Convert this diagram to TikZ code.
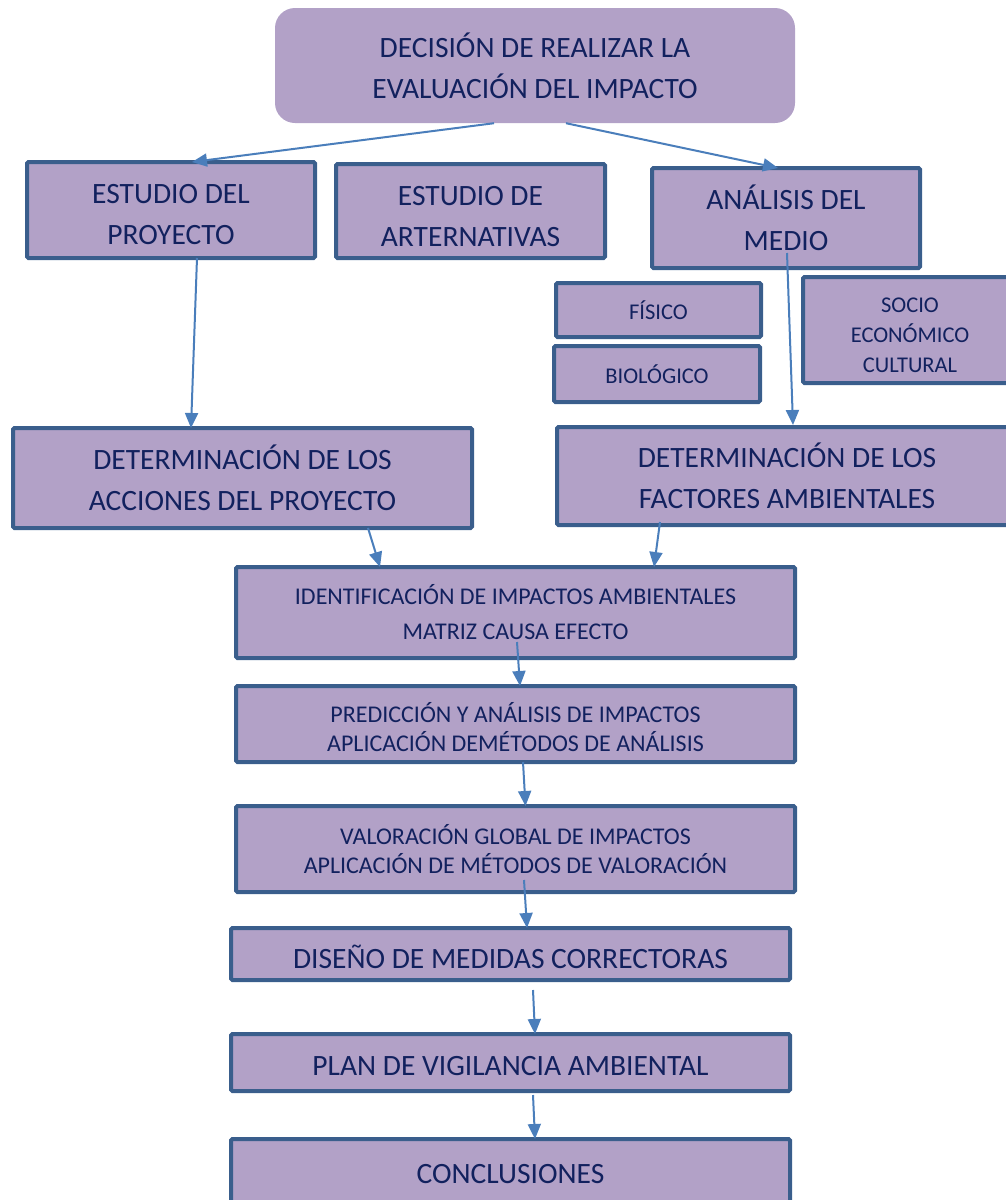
\documentclass[tikz,border=0pt]{standalone}
\usepackage{fontspec}
\setmainfont{Carlito}
\usetikzlibrary{arrows.meta}
\definecolor{boxfill}{HTML}{B2A1C7}
\definecolor{boxline}{HTML}{3A5E8C}
\definecolor{txt}{HTML}{12215E}
\definecolor{arr}{HTML}{4A7EBB}
\newcommand{\mvtext}[2]{\raisebox{#1}[\height][\depth]{\begin{tabular}{@{}c@{}}#2\end{tabular}}}
\begin{document}
\begin{tikzpicture}[x=1pt,y=-1pt,
  box/.style={draw=boxline, line width=4pt, fill=boxfill, rounded corners=1.5pt,
    text=txt, align=center, inner sep=0pt, outer sep=0pt},
  topbox/.style={fill=boxfill, rounded corners=20pt, text=txt, align=center, inner sep=0pt},
  big/.style={font=\fontsize{29.5}{41}\selectfont},
  mid/.style={font=\fontsize{24}{#1}\selectfont},
  sml/.style={font=\fontsize{22.5}{30}\selectfont},
  arrow/.style={draw=arr, line width=2pt, -{Triangle[length=15pt,width=13pt]}}]
\useasboundingbox (0,0) rectangle (1005,1200);

\node[topbox, big, minimum width=520pt, minimum height=115pt] (top) at (535,65.5)
  {DECISIÓN DE REALIZAR LA\\EVALUACIÓN DEL IMPACTO};

\node[box, big, minimum width=288pt, minimum height=96pt] (est) at (171,210)
  {\mvtext{-6pt}{ESTUDIO DEL\\PROYECTO}};
\node[box, big, minimum width=269pt, minimum height=94pt] (alt) at (470.5,211)
  {\mvtext{-7pt}{ESTUDIO DE\\ARTERNATIVAS}};
\node[box, big, minimum width=268pt, minimum height=100pt] (med) at (786,218)
  {ANÁLISIS DEL\\MEDIO};

\node[box, sml, minimum width=205pt, minimum height=54pt] (fis) at (658.5,310) {FÍSICO};
\node[box, sml, minimum width=206pt, minimum height=56pt] (bio) at (657,374) {BIOLÓGICO};
\node[box, sml, minimum width=214pt, minimum height=106pt] (soc) at (910,330)
  {\mvtext{-6pt}{SOCIO\\ECONÓMICO\\CULTURAL}};

\node[box, big, minimum width=459pt, minimum height=100pt] (acc) at (242.5,478)
  {DETERMINACIÓN DE LOS\\ACCIONES DEL PROYECTO};
\node[box, big, minimum width=460pt, minimum height=98pt] (fac) at (787,476)
  {DETERMINACIÓN DE LOS\\FACTORES AMBIENTALES};

\node[box, mid=35, minimum width=559pt, minimum height=91pt] (ide) at (515.5,612.5)
  {IDENTIFICACIÓN DE IMPACTOS AMBIENTALES\\MATRIZ CAUSA EFECTO};
\node[box, mid=28, minimum width=559pt, minimum height=76pt] (pre) at (515.5,724)
  {\mvtext{-7pt}{PREDICCIÓN Y ANÁLISIS DE IMPACTOS\\APLICACIÓN DEMÉTODOS DE ANÁLISIS}};
\node[box, mid=29, minimum width=559pt, minimum height=86pt] (val) at (515.5,849)
  {VALORACIÓN GLOBAL DE IMPACTOS\\APLICACIÓN DE MÉTODOS DE VALORACIÓN};
\node[box, big, minimum width=559pt, minimum height=52pt] (dis) at (510.5,954)
  {\mvtext{-6pt}{DISEÑO DE MEDIDAS CORRECTORAS}};
\node[box, big, minimum width=559pt, minimum height=57pt] (pla) at (510.5,1062.5)
  {\mvtext{-5pt}{PLAN DE VIGILANCIA AMBIENTAL}};
\node[box, big, minimum width=559pt, minimum height=76pt] (con) at (510.5,1177)
  {\mvtext{2pt}{CONCLUSIONES}};

\draw[arrow] ([xshift=-41pt]top.south) -- ([xshift=21pt]est.north);
\draw[arrow] ([xshift=31pt]top.south) -- ([xshift=-8pt]med.north);
\draw[arrow] ([xshift=26pt]est.south) -- ([xshift=-51.5pt]acc.north);
\draw[arrow] ([xshift=1pt,yshift=15pt]med.south) -- ([xshift=6pt,yshift=2pt]fac.north);
\draw[arrow] ([xshift=125.5pt]acc.south) -- ([xshift=-135.5pt]ide.north);
\draw[arrow] ([xshift=-127pt,yshift=3pt]fac.south) -- ([xshift=138.5pt]ide.north);
\draw[arrow] ([xshift=1.5pt,yshift=16pt]ide.south) -- ([xshift=4.5pt]pre.north);
\draw[arrow] ([xshift=7.5pt]pre.south) -- ([xshift=10pt]val.north);
\draw[arrow] ([xshift=8.5pt,yshift=12pt]val.south) -- ([xshift=16.5pt]dis.north);
\draw[arrow] ([xshift=22.5pt,yshift=-10pt]dis.south) -- ([xshift=24.5pt]pla.north);
\draw[arrow] ([xshift=22.5pt,yshift=-4pt]pla.south) -- ([xshift=24.5pt]con.north);
\end{tikzpicture}
\end{document}
